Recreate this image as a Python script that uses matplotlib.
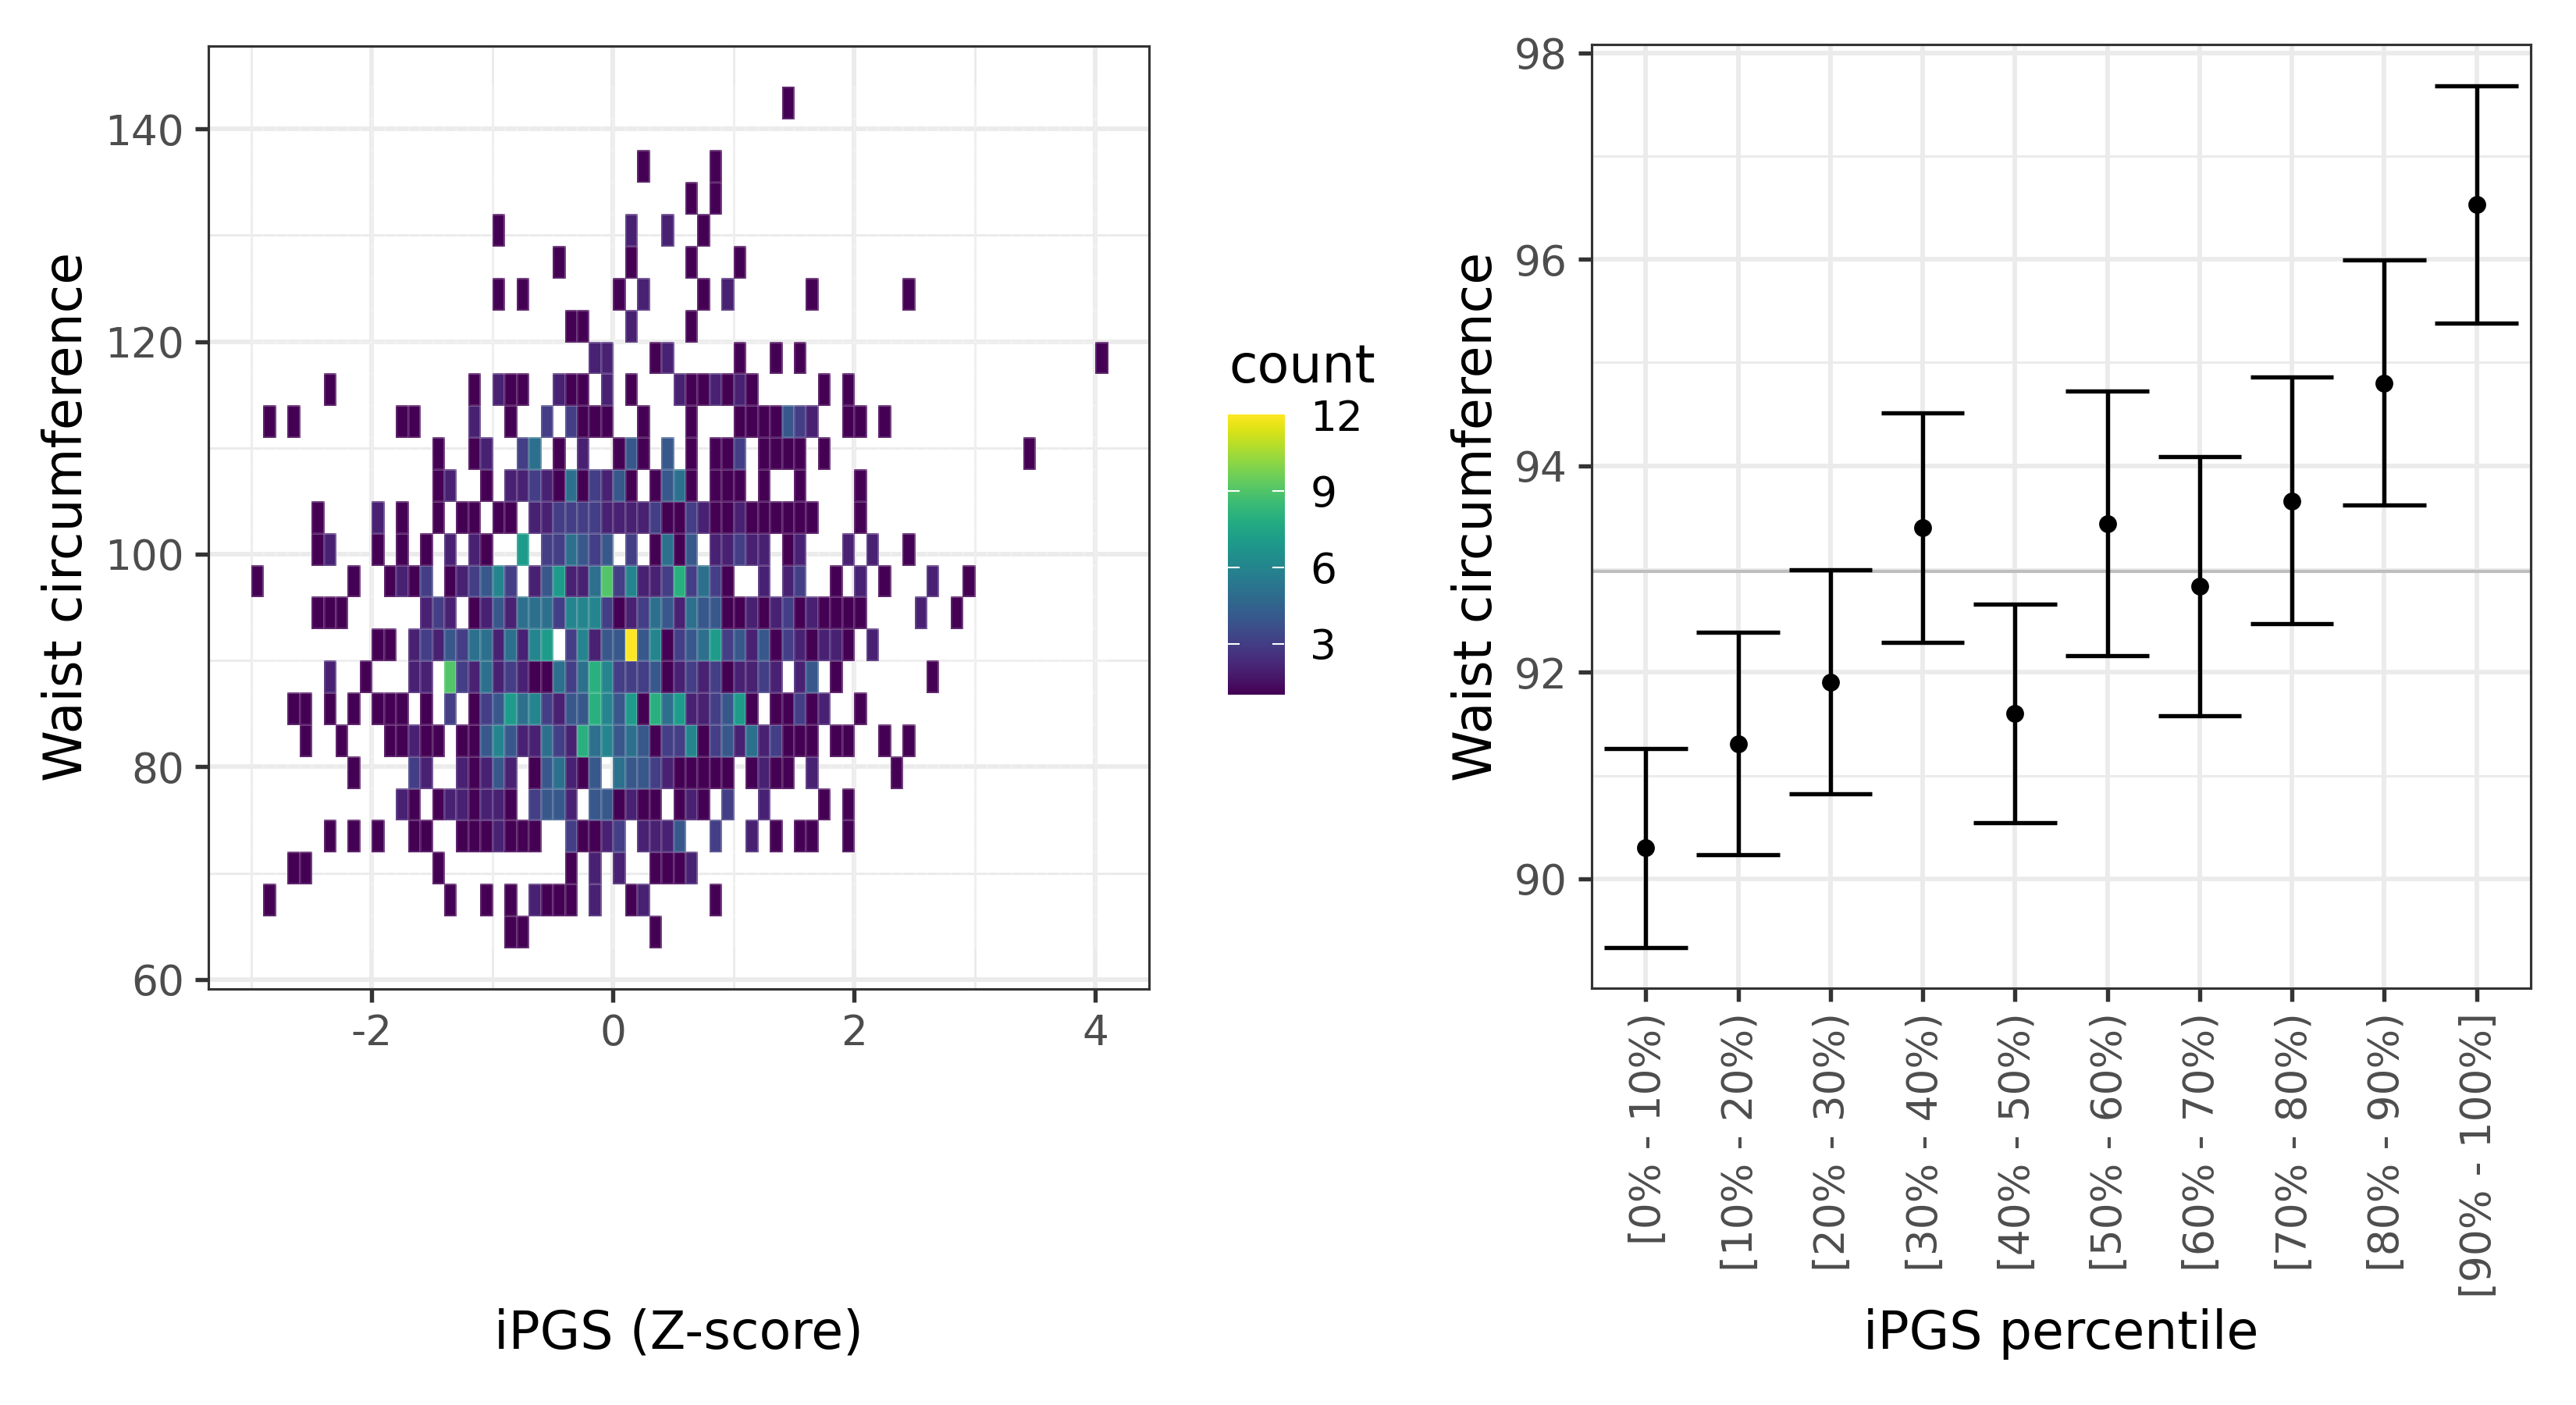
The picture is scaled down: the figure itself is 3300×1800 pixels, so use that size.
import numpy as np
import matplotlib
matplotlib.use("Agg")
import matplotlib.pyplot as plt
from matplotlib.transforms import ScaledTranslation

plt.rcParams['font.family'] = ['DejaVu Sans']

# ---- left panel: bin counts per row, {x bin left edge * 10: count}
y_bin_width = 3
x_bin_width = 0.1
row_141 = {14:1}
row_135 = {2:1, 8:1}
row_132 = {6:1, 8:1}
row_129 = {-10:1, 1:2, 4:2, 7:1}
row_126 = {-5:1, 1:1, 6:1, 10:1}
row_123 = {-10:1, -8:1, 0:1, 2:2, 7:1, 9:2, 16:1, 24:1}
row_120 = {-4:1, -3:1, 1:2, 6:1}
row_117 = {-2:2, -1:2, 3:1, 4:2, 10:1, 13:1, 15:1, 40:1}
row_114 = {-24:1, -12:1, -10:2, -9:1, -8:1, -5:2, -4:1, -3:1, -1:2, 1:1, 5:2, 6:1, 7:1, 8:2, 9:1, 10:2, 11:1, 17:1, 19:1}
row_111 = {-29:1, -27:1, -18:1, -17:1, -12:2, -9:1, -6:3, -4:3, -3:1, -2:1, -1:1, 2:1, 6:1, 10:1, 11:1, 12:1, 13:1, 14:4, 15:3, 16:2, 19:1, 20:1, 22:1}
row_108 = {-15:1, -12:1, -11:2, -8:3, -7:5, -5:1, -3:2, 0:1, 1:4, 2:1, 4:4, 6:1, 8:1, 9:1, 10:3, 12:1, 13:1, 14:1, 15:1, 17:1, 34:1}
row_105 = {-15:1, -14:2, -11:1, -9:2, -8:2, -7:3, -6:2, -5:1, -4:5, -3:1, -2:3, -1:2, 0:4, 1:1, 3:1, 4:4, 5:5, 6:1, 8:1, 9:1, 10:1, 12:1, 15:1, 20:1}
row_102 = {-25:1, -20:2, -18:1, -15:1, -13:1, -12:1, -10:1, -9:1, -7:2, -6:2, -5:3, -4:3, -3:3, -2:3, -1:2, 0:2, 1:2, 2:2, 3:3, 4:1, 5:1, 6:3, 7:2, 8:1, 9:1, 10:2, 11:1, 12:1, 13:1, 14:1, 15:1, 16:1, 20:1}
row_99 = {-25:1, -24:2, -20:1, -18:1, -16:1, -14:2, -12:2, -11:1, -8:7, -6:3, -5:3, -4:5, -3:4, -2:3, -1:4, 1:3, 3:1, 4:5, 5:1, 6:4, 8:2, 9:2, 10:3, 11:2, 12:2, 14:1, 15:2, 19:2, 21:2, 24:1}
row_96 = {-30:1, -22:1, -19:1, -18:2, -17:1, -16:3, -14:1, -13:2, -12:3, -11:4, -10:6, -9:3, -7:2, -6:4, -5:7, -4:2, -3:2, -2:5, -1:9, 0:3, 1:6, 2:2, 3:2, 4:3, 5:8, 6:3, 7:5, 8:3, 9:1, 12:2, 14:2, 15:3, 18:1, 20:2, 22:1, 26:2, 29:1}
row_93 = {-25:1, -24:1, -23:1, -16:2, -15:3, -14:2, -12:1, -11:2, -10:4, -9:2, -8:5, -7:5, -6:5, -5:3, -4:6, -3:6, -2:6, -1:3, 0:1, 1:2, 2:3, 3:5, 4:4, 5:2, 6:5, 7:4, 8:4, 9:1, 10:1, 11:2, 12:1, 13:2, 14:3, 15:1, 16:2, 17:1, 18:1, 19:1, 20:1, 25:2, 28:1}
row_90 = {-20:1, -19:1, -17:2, -16:3, -15:2, -14:4, -13:3, -12:5, -11:5, -10:2, -9:5, -8:2, -7:6, -6:7, -4:3, -3:6, -2:2, -1:4, 0:4, 1:12, 2:4, 3:6, 4:1, 5:3, 6:4, 7:5, 8:7, 9:3, 10:4, 11:2, 12:4, 13:1, 14:3, 15:2, 16:1, 17:2, 18:2, 19:1, 21:2}
row_87 = {-24:2, -21:1, -17:2, -16:2, -14:9, -13:3, -12:2, -11:5, -10:2, -9:3, -8:2, -7:1, -6:1, -5:5, -4:3, -3:5, -2:8, -1:6, 0:3, 1:3, 2:3, 3:4, 4:1, 5:2, 6:3, 7:2, 8:3, 9:1, 10:2, 11:2, 12:3, 13:2, 15:2, 16:4, 18:1, 26:1}
row_84 = {-27:1, -26:1, -24:1, -22:1, -20:1, -19:1, -18:1, -16:1, -14:3, -12:1, -11:3, -10:4, -9:7, -8:5, -7:6, -6:3, -5:2, -4:4, -3:4, -2:8, -1:6, 0:4, 1:7, 2:1, 3:8, 4:5, 5:7, 6:2, 7:2, 8:3, 9:4, 10:7, 11:1, 13:1, 14:1, 15:3, 16:1, 17:2, 20:1}
row_81 = {-26:1, -23:1, -19:1, -18:1, -17:2, -16:1, -15:1, -13:1, -12:1, -11:4, -10:6, -9:4, -8:2, -7:2, -6:5, -5:3, -4:2, -3:8, -2:5, -1:6, 0:4, 1:5, 2:4, 3:1, 4:3, 5:3, 6:6, 7:1, 8:3, 9:4, 10:2, 11:5, 12:2, 13:3, 14:1, 15:1, 16:1, 18:1, 19:1, 22:1, 24:1}
row_78 = {-22:1, -17:3, -16:2, -13:2, -12:1, -11:2, -10:4, -9:2, -7:1, -6:4, -5:5, -4:2, -3:1, -2:4, 0:5, 1:4, 2:4, 3:3, 4:2, 5:1, 6:1, 7:1, 8:1, 9:1, 11:1, 12:2, 13:1, 14:1, 16:2, 23:1}
row_75 = {-18:2, -17:1, -15:1, -14:2, -13:2, -12:1, -11:2, -10:2, -9:1, -7:3, -6:4, -5:4, -4:2, -2:4, -1:4, 0:1, 1:2, 2:1, 3:1, 5:1, 6:2, 7:1, 9:3, 12:2, 17:1, 19:1}
row_72 = {-24:1, -22:1, -20:1, -17:1, -16:1, -13:1, -12:1, -11:1, -10:2, -9:1, -8:1, -7:1, -4:3, -3:1, -2:1, -1:2, 0:3, 2:2, 3:2, 4:2, 5:4, 8:3, 11:2, 13:1, 15:1, 16:1, 19:1}
row_69 = {-27:1, -26:1, -15:1, -4:1, -2:2, 0:2, 3:1, 4:1, 5:1, 6:2}
row_66 = {-29:1, -14:1, -11:1, -9:1, -7:2, -6:1, -5:1, -4:1, -2:2, 1:1, 2:2, 8:1}
row_63 = {-9:1, -8:1, 3:1}

rows = {141:row_141, 135:row_135, 132:row_132, 129:row_129, 126:row_126, 123:row_123,
        120:row_120, 117:row_117, 114:row_114, 111:row_111, 108:row_108, 105:row_105,
        102:row_102, 99:row_99, 96:row_96, 93:row_93, 90:row_90, 87:row_87, 84:row_84,
        81:row_81, 78:row_78, 75:row_75, 72:row_72, 69:row_69, 66:row_66, 63:row_63}

# ---- right panel
percentiles = ['[0% - 10%)', '[10% - 20%)', '[20% - 30%)', '[30% - 40%)', '[40% - 50%)',
               '[50% - 60%)', '[60% - 70%)', '[70% - 80%)', '[80% - 90%)', '[90% - 100%]']
means = [90.30, 91.31, 91.90, 93.40, 91.60, 93.44, 92.83, 93.66, 94.80, 96.53]
lows = [89.33, 90.23, 90.82, 92.29, 90.54, 92.16, 91.58, 92.47, 93.62, 95.38]
highs = [91.26, 92.39, 92.99, 94.51, 92.66, 94.72, 94.09, 94.86, 95.99, 97.68]
overall_mean = 92.98

W, H = 3300, 1800
fig = plt.figure(figsize=(W/300, H/300), dpi=300)
def axes_px(l, t, r, b):
    return fig.add_axes([l/W, 1-b/H, (r-l)/W, (b-t)/H])

GRID = '#ebebeb'; TICKC = '#4d4d4d'; SPINE = '#333333'
TICK_FS = 12.8; TITLE_FS = 16
def style(ax):
    ax.set_axisbelow(True)
    for s in ax.spines.values():
        s.set_color(SPINE); s.set_linewidth(0.75)
    ax.tick_params(axis='both', which='major', color=SPINE, labelcolor=TICKC, labelsize=TICK_FS,
                   width=1.3, length=4.0, pad=3.5)
    ax.tick_params(axis='both', which='minor', length=0)
    ax.grid(True, which='major', color=GRID, lw=1.4)
    ax.grid(True, which='minor', color=GRID, lw=0.7)

def labels(ax, xlabel, ylabel, xc, ly):
    ax.set_xlabel(xlabel, fontsize=TITLE_FS, va='center', ha='center')
    ax.set_ylabel(ylabel, fontsize=TITLE_FS, va='center', ha='center')
    ax.xaxis.set_label_coords(xc/W, 1-1709/H, transform=fig.transFigure)
    ax.yaxis.set_label_coords(ly/W, 1-662/H, transform=fig.transFigure)

# left
ax = axes_px(267, 59, 1472, 1267)
x_min, x_max = -3, 4.1
nx = int(round((x_max-x_min)/x_bin_width)); ylo = 63; ny = (144-63)//y_bin_width
Z = np.full((ny, nx), np.nan)
for y0, cells in rows.items():
    for k, c in cells.items():
        Z[(y0-ylo)//y_bin_width, k+30] = c
xe = x_min + x_bin_width*np.arange(nx+1)
ye = ylo + y_bin_width*np.arange(ny+1)
mesh = ax.pcolormesh(xe, ye, np.ma.masked_invalid(Z), cmap='viridis', vmin=1, vmax=12,
                     edgecolors=(1,1,1,0.14), linewidth=0.25, zorder=2)
ax.set_xlim(-3.355, 4.445)
ax.set_ylim(59.1, 147.8)
ax.set_xticks([-2,0,2,4]); ax.set_xticklabels(['-2','0','2','4'])
ax.set_xticks([-3,-1,1,3], minor=True)
ax.set_yticks([60,80,100,120,140])
ax.set_yticks([70,90,110,130], minor=True)
style(ax)
labels(ax, 'iPGS (Z-score)', 'Waist circumference', 870, 86)

# colourbar
cax = axes_px(1573, 531, 1645, 890)
grad = np.linspace(1, 12, 256).reshape(-1, 1)
cax.imshow(grad, aspect='auto', origin='lower', cmap='viridis', vmin=1, vmax=12, extent=[0,1,1,12])
for s in cax.spines.values():
    s.set_visible(False)
cax.set_xticks([])
cax.yaxis.tick_right()
cax.set_yticks([3,6,9,12])
cax.tick_params(axis='y', length=0, labelsize=TICK_FS, labelcolor='black', pad=8)
for v in [3,6,9]:
    cax.plot([0,0.2],[v,v], color='white', lw=0.5)
    cax.plot([0.8,1],[v,v], color='white', lw=0.5)
cax.set_xlim(0,1); cax.set_ylim(1,12)
fig.text(1574/W, 1-471/H, 'count', fontsize=TITLE_FS, ha='left', va='center', color='black')

# right
ax2 = axes_px(2039, 57, 3242, 1266)
xs = np.arange(1, 11)
ax2.axhline(overall_mean, color='#bebebe', lw=1.0, zorder=2)
LW = 1.3
ax2.errorbar(xs, means, yerr=[np.array(means)-np.array(lows), np.array(highs)-np.array(means)],
             fmt='none', ecolor='black', elinewidth=LW, capsize=0, zorder=3)
for x, lo, hi in zip(xs, lows, highs):
    ax2.plot([x-0.45, x+0.45], [lo, lo], color='black', lw=LW, zorder=3, solid_capstyle='butt')
    ax2.plot([x-0.45, x+0.45], [hi, hi], color='black', lw=LW, zorder=3, solid_capstyle='butt')
ax2.scatter(xs, means, s=30, color='black', zorder=4, linewidths=0)
ax2.set_xlim(0.414, 10.586)
ax2.set_ylim(88.94, 98.08)
ax2.set_xticks(xs); ax2.set_xticklabels(percentiles, rotation=90, ha='center', va='top')
ax2.set_yticks([90,92,94,96,98])
ax2.set_yticks([91,93,95,97], minor=True)
style(ax2)
shift = ScaledTranslation(3.5/300, 0, fig.dpi_scale_trans)
for lab in ax2.get_xticklabels():
    lab.set_transform(lab.get_transform() + shift)
labels(ax2, 'iPGS percentile', 'Waist circumference', 2640, 1892)

fig.savefig('out.png', dpi=300, facecolor='white')
